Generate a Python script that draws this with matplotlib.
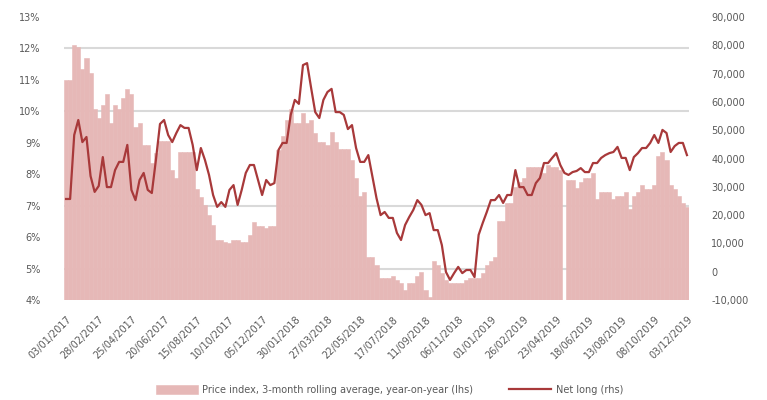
import matplotlib
matplotlib.use("Agg")
import matplotlib.pyplot as plt
import numpy as np

# ---- data (weekly observations) ----
pink_values = [
    11.00, 11.00, 12.11, 12.05, 11.35, 11.70, 11.22, 10.08, 9.79, 10.20,
    10.55, 9.63, 10.20, 10.08, 10.42, 10.71, 10.55, 9.50, 9.63, 8.93,
    8.93, 8.36, 8.68, 9.06, 9.06, 9.06, 8.13, 7.88, 8.71, 8.71,
    8.71, 8.71, 7.53, 7.28, 7.02, 6.70, 6.39, 5.91, 5.91, 5.84,
    5.81, 5.91, 5.91, 5.84, 5.84, 6.07, 6.48, 6.35, 6.35, 6.29,
    6.35, 6.35, 8.77, 9.22, 9.73, 10.08, 9.63, 9.63, 9.95, 9.63,
    9.73, 9.31, 9.03, 9.03, 8.93, 9.34, 9.03, 8.80, 8.80, 8.80,
    8.45, 7.88, 7.31, 7.44, 5.37, 5.37, 5.11, 4.70, 4.70, 4.70,
    4.76, 4.64, 4.54, 4.32, 4.54, 4.54, 4.76, 4.89, 4.32, 4.10,
    5.24, 5.11, 4.86, 4.64, 4.54, 4.54, 4.54, 4.54, 4.64, 4.70,
    4.70, 4.70, 4.86, 5.11, 5.24, 5.37, 6.51, 6.51, 7.09, 7.09,
    7.59, 7.75, 7.88, 8.23, 8.23, 8.23, 8.23, 8.04, 8.29, 8.23,
    8.23, 8.13, np.nan, 7.82, 7.82, 7.56, 7.75, 7.88, 7.88, 8.04,
    7.21, 7.44, 7.44, 7.44, 7.21, 7.31, 7.31, 7.44, 6.89, 7.31,
    7.44, 7.66, 7.53, 7.53, 7.66, 8.58, 8.71, 8.45, 7.66, 7.53,
    7.31, 7.09, 6.96,
]

line_values = [
    25700, 25700, 48300, 53600, 45800, 47600, 33800, 28200, 30300, 40500,
    29900, 29900, 35900, 38800, 38800, 44800, 28900, 25300, 32400, 34900,
    28900, 27800, 39500, 52200, 53600, 48300, 45800, 49000, 51800, 50800,
    50800, 44800, 35900, 43700, 39500, 34200, 27100, 22900, 24600, 22900,
    28900, 30600, 23600, 28900, 34900, 37700, 37700, 32400, 27100, 32400,
    30600, 31300, 43000, 45500, 45500, 55400, 60700, 59300, 73000, 73700,
    64900, 56400, 54300, 60700, 63500, 64600, 56400, 56400, 55400, 50400,
    51800, 43700, 38800, 38800, 41200, 33500, 26000, 20000, 21100, 19000,
    19000, 13700, 11200, 16500, 19300, 21800, 25300, 23600, 20000, 20700,
    14700, 14700, 9400, -100, -2900, -500, 1700, -500, 600, 600,
    -1900, 13000, 17200, 21100, 25300, 25300, 27100, 24300, 27100, 27100,
    35900, 29900, 29900, 27100, 27100, 31300, 33100, 38400, 38400, 40200,
    41900, 37700, 34900, 34200, 35200, 35600, 36600, 35200, 35200, 38400,
    38400, 40200, 41200, 41900, 42300, 44100, 40200, 40200, 35900, 40500,
    41900, 43700, 43700, 45500, 48300, 45500, 50100, 49000, 42300, 44400,
    45500, 45500, 41200,
]

tick_labels = [
    "03/01/2017", "28/02/2017", "25/04/2017", "20/06/2017", "15/08/2017",
    "10/10/2017", "05/12/2017", "30/01/2018", "27/03/2018", "22/05/2018",
    "17/07/2018", "11/09/2018", "06/11/2018", "01/01/2019", "26/02/2019",
    "23/04/2019", "18/06/2019", "13/08/2019", "08/10/2019", "03/12/2019",
]
tick_step = 8

left_ticks = [4, 5, 6, 7, 8, 9, 10, 11, 12, 13]
left_grid = [5, 7, 10, 12]
right_ticks = [-10000, 0, 10000, 20000, 30000, 40000, 50000, 60000, 70000, 80000, 90000]

series_names = ["Price index, 3-month rolling average, year-on-year (lhs)", "Net long (rhs)"]

# ---- styling ----
PINK = "#E6B8B7"
RED = "#A8393A"
GRID = "#D9D9D9"
TXT = "#595959"
FS = 7

fig = plt.figure(figsize=(7.67, 4.0), dpi=100)
ax = fig.add_axes([64 / 767, 100 / 400, 625 / 767, 283 / 400])
ax2 = ax.twinx()

x = np.arange(len(pink_values))
pink = np.array(pink_values, dtype=float)
base = left_ticks[0]

for g in left_grid:
    ax.axhline(g, color=GRID, lw=1.5, zorder=0)

bars = ax.bar(x, pink - base, bottom=base, width=1.0, color=PINK,
              edgecolor=PINK, linewidth=0.4, zorder=1, label=series_names[0])
ln, = ax2.plot(x, line_values, color=RED, lw=1.6, zorder=3, label=series_names[1])

ax.set_xlim(-0.5, len(pink_values) - 0.5)
ax.set_ylim(left_ticks[0], left_ticks[-1])
ax2.set_ylim(right_ticks[0], right_ticks[-1])

ax.set_yticks(left_ticks)
ax.set_yticklabels([f"{v}%" for v in left_ticks])
ax2.set_yticks(right_ticks)
ax2.set_yticklabels([f"{v:,}" for v in right_ticks])

ax.set_xticks(np.arange(0, len(tick_labels) * tick_step, tick_step))
ax.set_xticklabels(tick_labels, rotation=45, ha="right", rotation_mode="anchor")

for a in (ax, ax2):
    for s in a.spines.values():
        s.set_visible(False)
    a.tick_params(length=0, labelsize=FS, colors=TXT)
ax.tick_params(axis="y", pad=17)
ax2.tick_params(axis="y", pad=16)
ax.tick_params(axis="x", pad=10)
ax.grid(False)
ax2.grid(False)

fig.legend([bars, ln], series_names, loc="center", bbox_to_anchor=(0.508, 0.025),
           ncol=2, frameon=False, fontsize=FS, labelcolor=TXT,
           handlelength=4.3, handleheight=1.0, columnspacing=3.7, handletextpad=0.5)

fig.savefig("out.png", dpi=100)
